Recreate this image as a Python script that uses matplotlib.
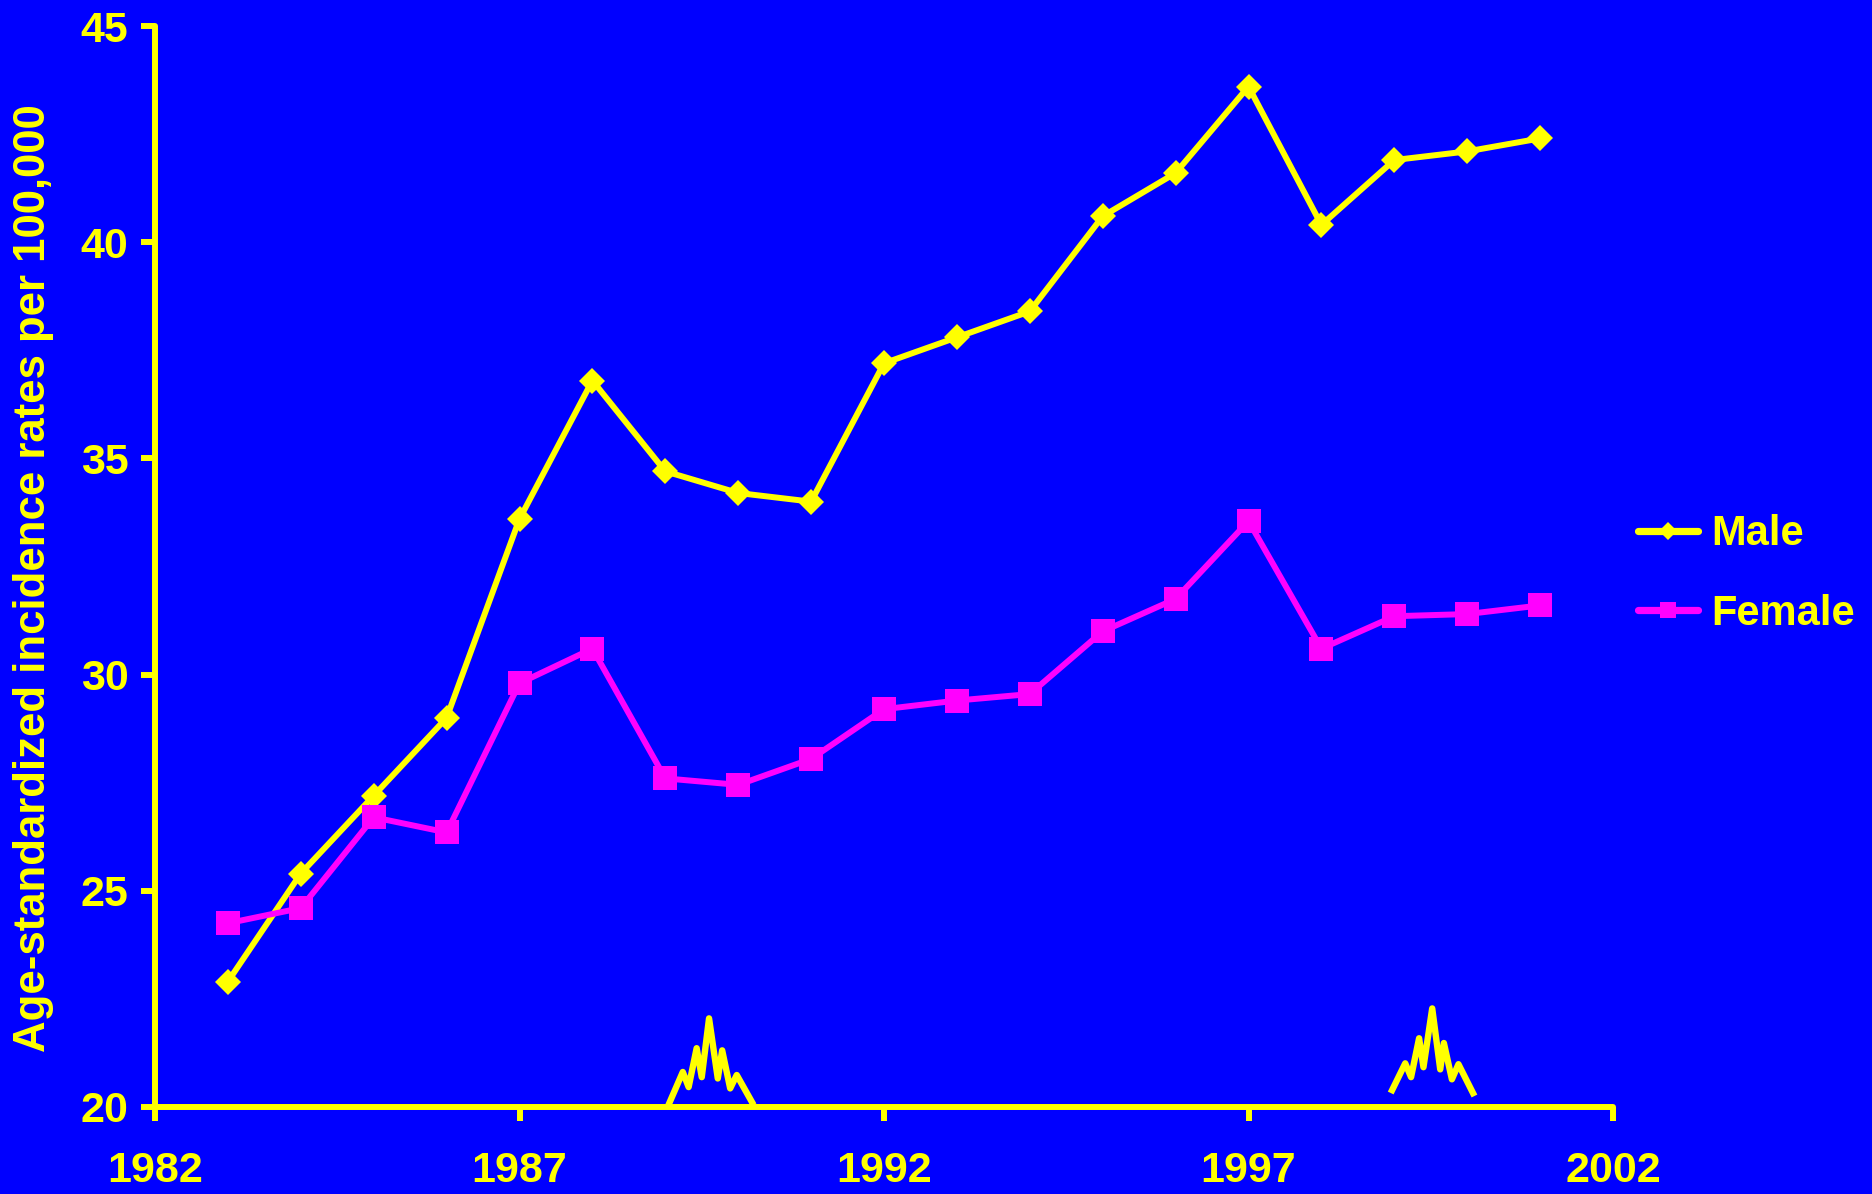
import numpy as np
import matplotlib.pyplot as plt

########################################################
# DATA

years = list(range(1983, 2002))

male = [22.9, 25.4, 27.2, 29.0, 33.6, 36.8, 34.7, 34.2, 34.0, 37.2,
        37.8, 38.4, 40.6, 41.6, 43.6, 40.4, 41.9, 42.1, 42.4]
female = [24.25, 24.6, 26.7, 26.35, 29.8, 30.6, 27.6, 27.45, 28.05, 29.2,
          29.4, 29.55, 31.0, 31.75, 33.55, 30.6, 31.35, 31.4, 31.6]

# little yellow squiggles sitting on the x axis
spike1_x = [1989.06, 1989.24, 1989.32, 1989.43, 1989.50, 1989.60,
            1989.72, 1989.78, 1989.89, 1989.98, 1990.19]
spike1_y = [20.11, 20.81, 20.46, 21.36, 20.69, 22.05,
            20.66, 21.31, 20.43, 20.74, 20.11]
spike2_x = [1998.97, 1999.15, 1999.23, 1999.34, 1999.40, 1999.52,
            1999.63, 1999.68, 1999.79, 1999.88, 2000.08]
spike2_y = [20.39, 21.01, 20.69, 21.59, 20.92, 22.28,
            20.87, 21.48, 20.64, 20.99, 20.32]

xticks = [1982, 1987, 1992, 1997, 2002]
yticks = [20, 25, 30, 35, 40, 45]

########################################################
# STYLE

BLUE = "#0000FF"
YELLOW = "#FFFF00"
MAGENTA = "#FF00FF"

plt.rcParams['font.family'] = ['Liberation Sans', 'DejaVu Sans']
plt.rcParams['font.weight'] = 'bold'

fig = plt.figure(figsize=(18.72, 11.94), dpi=100, facecolor=BLUE)
ax = fig.add_axes([155 / 1872, 1 - 1107 / 1194, 1458 / 1872, 1081 / 1194])
ax.set_facecolor(BLUE)

########################################################
# PLOTTING

ax.plot(years, male, color=YELLOW, lw=4.3, marker='D', ms=13.5,
        mec=YELLOW, mfc=YELLOW, mew=0, label="Male", zorder=3,
        solid_capstyle='round', solid_joinstyle='miter')
ax.plot(years, female, color=MAGENTA, lw=4.3, marker='s', ms=17,
        mec=MAGENTA, mfc=MAGENTA, mew=0, label="Female", zorder=3,
        solid_capstyle='round', solid_joinstyle='miter')

ax.plot(spike1_x, spike1_y, color=YELLOW, lw=4.6, zorder=2)
ax.plot(spike2_x, spike2_y, color=YELLOW, lw=4.6, zorder=2)

ax.set_xlim(1982, 2002)
ax.set_ylim(20, 45)
ax.set_xticks(xticks)
ax.set_yticks(yticks)

for side in ['top', 'right']:
    ax.spines[side].set_visible(False)
for side in ['left', 'bottom']:
    ax.spines[side].set_color(YELLOW)
    ax.spines[side].set_linewidth(4.3)
    ax.spines[side].set_capstyle('round')

ax.tick_params(axis='both', colors=YELLOW, width=4.3, length=10,
               direction='out', labelsize=31)
ax.tick_params(axis='y', pad=9)
ax.tick_params(axis='x', pad=22)
for lab in ax.get_xticklabels() + ax.get_yticklabels():
    lab.set_fontweight('bold')

fig.text(34 / 1872, 1 - 578 / 1194, "Age-standardized incidence rates per 100,000",
         rotation=90, ha='center', va='center', color=YELLOW,
         fontsize=31.5, fontweight='bold')

leg = ax.legend(loc='center left', bbox_to_anchor=(1638 / 1872, 1 - 574 / 1194),
                bbox_transform=fig.transFigure, frameon=False,
                borderpad=0, borderaxespad=0, handlelength=1.45,
                handletextpad=0.3, labelspacing=0.95, markerscale=0.65,
                prop={'size': 30, 'weight': 'bold'})
for txt in leg.get_texts():
    txt.set_color(YELLOW)
for h in leg.legend_handles:
    h.set_linewidth(5.2)

fig.savefig("out.png", dpi=100, facecolor=BLUE)
